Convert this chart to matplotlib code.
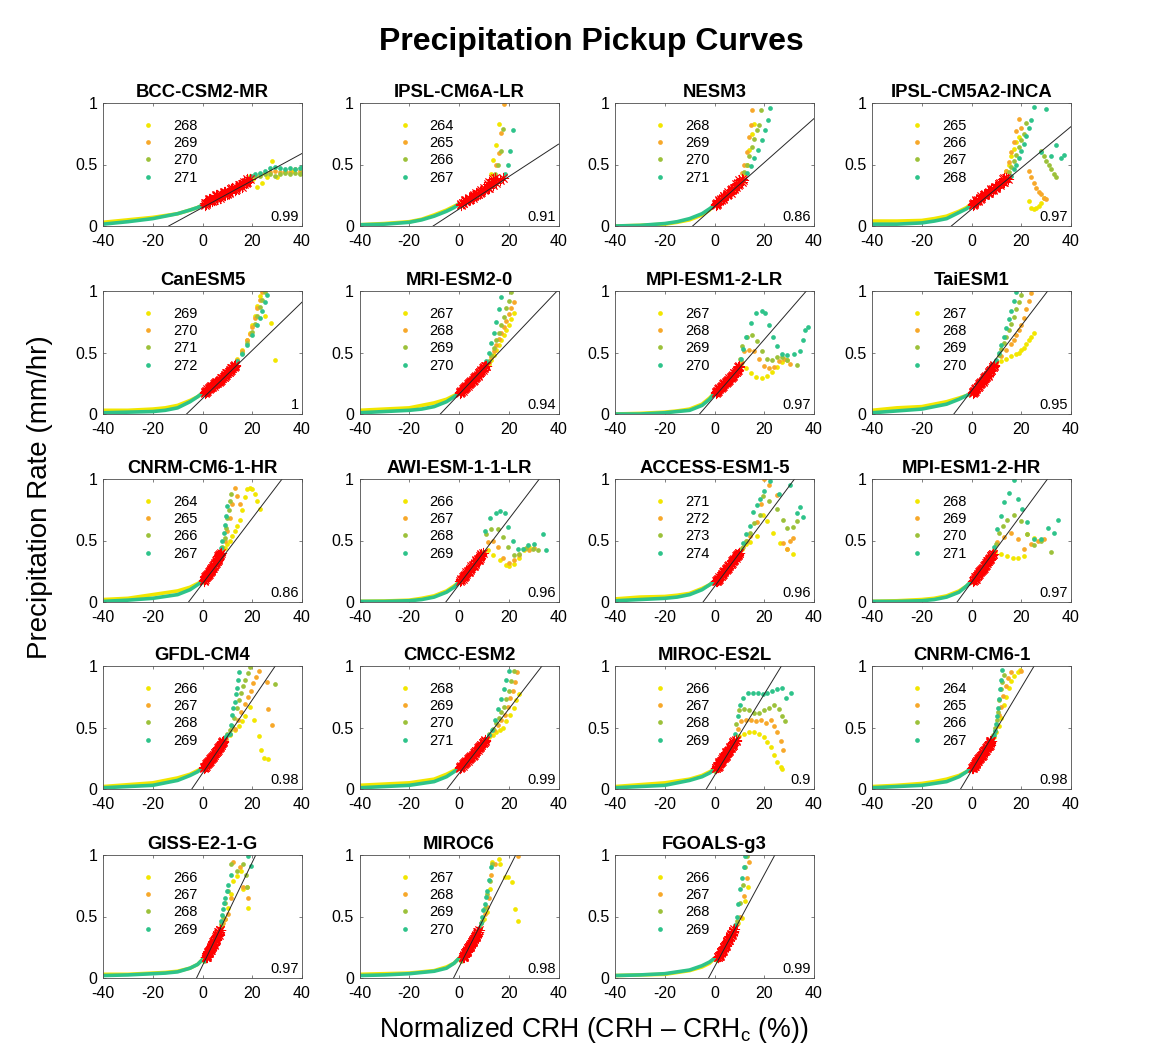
import matplotlib
matplotlib.use("Agg")
import matplotlib.pyplot as plt
from matplotlib.lines import Line2D

plt.rcParams['font.family'] = ['Liberation Sans', 'DejaVu Sans']
plt.rcParams['mathtext.fontset'] = 'custom'
plt.rcParams['mathtext.rm'] = 'Liberation Sans'
plt.rcParams['axes.unicode_minus'] = False

model_names = [
    "BCC-CSM2-MR", "IPSL-CM6A-LR", "NESM3", "IPSL-CM5A2-INCA",
    "CanESM5", "MRI-ESM2-0", "MPI-ESM1-2-LR", "TaiESM1",
    "CNRM-CM6-1-HR", "AWI-ESM-1-1-LR", "ACCESS-ESM1-5", "MPI-ESM1-2-HR",
    "GFDL-CM4", "CMCC-ESM2", "MIROC-ES2L", "CNRM-CM6-1",
    "GISS-E2-1-G", "MIROC6", "FGOALS-g3",
]
temp_labels = [
    ["268", "269", "270", "271"], ["264", "265", "266", "267"],
    ["268", "269", "270", "271"], ["265", "266", "267", "268"],
    ["269", "270", "271", "272"], ["267", "268", "269", "270"],
    ["267", "268", "269", "270"], ["267", "268", "269", "270"],
    ["264", "265", "266", "267"], ["266", "267", "268", "269"],
    ["271", "272", "273", "274"], ["268", "269", "270", "271"],
    ["266", "267", "268", "269"], ["268", "269", "270", "271"],
    ["266", "267", "268", "269"], ["264", "265", "266", "267"],
    ["266", "267", "268", "269"], ["267", "268", "269", "270"],
    ["266", "267", "268", "269"],
]
corr_values = ["0.99", "0.91", "0.86", "0.97", "1", "0.94", "0.97", "0.95",
               "0.86", "0.96", "0.96", "0.97", "0.98", "0.99", "0.9", "0.98",
               "0.97", "0.98", "0.99"]

# linear fit: crossing of zero precip and slope (mm/hr per %)
fit_x0 = [-13.6, -10.4, -8.8, -8.1, -6.4, -7.5, -6.0, -7.1, -5.6, -5.3,
          -4.6, -5.8, -4.3, -4.8, -3.3, -4.4, -2.4, -2.2, -2.4]
fit_slope = [0.011, 0.0132, 0.0179, 0.0168, 0.0196, 0.0213, 0.0233, 0.0265,
             0.0266, 0.0266, 0.0272, 0.0275, 0.0298, 0.0262, 0.0331, 0.0338,
             0.042, 0.040, 0.0375]
fit_range = (0.17, 0.40)

# dry side of the curves (warmest and coldest bins)
low_x = [-40, -30, -20, -15, -10, -5, -2, 0]
low_upper = [
    [0.03, 0.05, 0.07, 0.085, 0.10, 0.13, 0.15, 0.17], [0.01, 0.02, 0.035, 0.055, 0.09, 0.13, 0.16, 0.18],
    [0.0, 0.005, 0.015, 0.03, 0.05, 0.09, 0.13, 0.17], [0.04, 0.04, 0.045, 0.06, 0.08, 0.12, 0.15, 0.18],
    [0.03, 0.03, 0.04, 0.05, 0.07, 0.11, 0.14, 0.17], [0.03, 0.04, 0.05, 0.07, 0.09, 0.12, 0.15, 0.17],
    [0.0, 0.005, 0.015, 0.025, 0.04, 0.08, 0.13, 0.17], [0.03, 0.05, 0.06, 0.08, 0.10, 0.13, 0.15, 0.17],
    [0.02, 0.03, 0.06, 0.075, 0.09, 0.12, 0.15, 0.17], [0.005, 0.008, 0.015, 0.03, 0.05, 0.09, 0.13, 0.16],
    [0.025, 0.04, 0.045, 0.055, 0.07, 0.11, 0.14, 0.17], [0.005, 0.01, 0.02, 0.03, 0.05, 0.09, 0.13, 0.17],
    [0.02, 0.035, 0.05, 0.07, 0.09, 0.12, 0.15, 0.17], [0.03, 0.04, 0.05, 0.065, 0.08, 0.12, 0.15, 0.17],
    [0.02, 0.035, 0.05, 0.065, 0.08, 0.11, 0.14, 0.16], [0.02, 0.03, 0.045, 0.06, 0.08, 0.11, 0.14, 0.17],
    [0.03, 0.03, 0.04, 0.045, 0.055, 0.08, 0.11, 0.15], [0.03, 0.035, 0.04, 0.05, 0.06, 0.09, 0.12, 0.16],
    [0.02, 0.025, 0.03, 0.045, 0.06, 0.09, 0.12, 0.16],
]
low_lower = [
    [0.015, 0.035, 0.06, 0.08, 0.10, 0.13, 0.15, 0.17], [0.01, 0.015, 0.03, 0.05, 0.08, 0.12, 0.15, 0.18],
    [0.0, 0.005, 0.02, 0.035, 0.06, 0.10, 0.14, 0.17], [0.015, 0.015, 0.025, 0.04, 0.06, 0.11, 0.14, 0.17],
    [0.01, 0.015, 0.02, 0.03, 0.05, 0.10, 0.14, 0.17], [0.01, 0.02, 0.03, 0.04, 0.06, 0.10, 0.14, 0.17],
    [0.0, 0.0, 0.01, 0.02, 0.03, 0.07, 0.12, 0.17], [0.01, 0.025, 0.04, 0.06, 0.08, 0.12, 0.15, 0.17],
    [0.005, 0.015, 0.03, 0.045, 0.06, 0.10, 0.14, 0.17], [0.005, 0.005, 0.01, 0.02, 0.04, 0.08, 0.12, 0.16],
    [0.01, 0.02, 0.03, 0.04, 0.06, 0.10, 0.14, 0.17], [0.005, 0.005, 0.01, 0.02, 0.04, 0.08, 0.13, 0.17],
    [0.01, 0.02, 0.03, 0.05, 0.07, 0.11, 0.14, 0.17], [0.01, 0.02, 0.03, 0.045, 0.06, 0.10, 0.14, 0.17],
    [0.01, 0.02, 0.03, 0.05, 0.07, 0.10, 0.13, 0.16], [0.01, 0.02, 0.03, 0.045, 0.06, 0.10, 0.14, 0.17],
    [0.02, 0.025, 0.035, 0.04, 0.05, 0.08, 0.11, 0.15], [0.02, 0.025, 0.035, 0.045, 0.055, 0.08, 0.12, 0.16],
    [0.02, 0.025, 0.035, 0.05, 0.065, 0.10, 0.13, 0.16],
]

# moist side, (CRH, precip) per bin, one list per temperature (cold -> warm)
bcc = [
    [(1, .19), (2.5, .22), (4, .21), (5.5, .25), (7, .24), (8.5, .28), (10, .27), (11.5, .30), (13, .29), (14.5, .33), (16, .32), (17.5, .36), (19, .41), (20.5, .38), (22, .32), (24, .35), (26, .40), (28, .53), (30, .40), (33, .44), (36, .45), (39, .43)],
    [(1.5, .18), (3, .20), (4.5, .23), (6, .22), (7.5, .26), (9, .25), (10.5, .28), (12, .29), (13.5, .30), (15, .33), (16.5, .34), (18, .36), (19.5, .41), (21, .41), (23, .42), (25, .43), (27, .44), (29, .45), (31, .44), (33, .45), (35, .44), (37, .46), (39, .45), (40, .44)],
    [(1, .17), (2.5, .21), (4, .20), (5.5, .24), (7, .23), (8.5, .27), (10, .26), (11.5, .30), (13, .29), (14.5, .32), (16, .34), (17.5, .35), (19, .38), (21, .41), (23, .41), (25, .42), (27, .42), (29, .41), (31, .42), (33, .43), (35, .42), (37, .43), (39, .42), (40, .43)],
    [(1.5, .19), (3, .22), (4.5, .21), (6, .25), (7.5, .24), (9, .28), (10.5, .27), (12, .31), (13.5, .32), (15, .33), (16.5, .36), (18, .38), (19.5, .41), (21, .42), (23, .43), (25, .45), (27, .47), (29, .48), (31, .47), (33, .46), (35, .47), (37, .46), (39, .47), (40, .48)],
]
ipsl6 = [
    [(1, .18), (2.5, .21), (4, .23), (5.5, .24), (7, .27), (8.5, .28), (10, .31), (11.5, .34), (13, .42), (13.6, .54), (14.7, .66), (15.9, .83)],
    [(1.5, .19), (3, .20), (4.5, .22), (6, .25), (7.5, .26), (9, .29), (10.5, .30), (12, .36), (13.5, .38), (14.5, .39), (15, .50), (16, .59), (17, .76), (18, .99)],
    [(1, .17), (2.5, .20), (4, .21), (5.5, .23), (7, .25), (8.5, .27), (10, .29), (11.5, .31), (13, .35), (14.3, .42), (15.6, .50), (16.7, .61), (17.6, .79)],
    [(1.5, .19), (3, .21), (4.5, .22), (6, .24), (7.5, .26), (9, .28), (10.5, .30), (12, .31), (13.5, .33), (15, .35), (16.5, .37), (17.5, .39), (18.5, .42), (19.6, .50), (20.5, .61), (21.9, .78)],
]
nesm3 = [
    [(.5, .17), (2, .20), (3.5, .22), (5, .25), (6.5, .27), (8, .30), (9.5, .33), (11, .36), (12, .42), (13, .50), (14, .62), (15, .75), (16, .83)],
    [(1, .19), (2.5, .22), (4, .24), (5.5, .28), (7, .30), (8.5, .34), (10, .37), (11, .43), (12, .50), (13, .60), (14, .72), (14.5, .82), (15, .94)],
    [(.5, .18), (2, .21), (3.5, .23), (5, .26), (6.5, .29), (8, .31), (9.5, .35), (11, .38), (12, .44), (13, .50), (14, .57), (15, .64), (16, .71), (17, .78), (18, .82), (18.5, .94)],
    [(1, .18), (2.5, .21), (4, .24), (5.5, .26), (7, .29), (8.5, .32), (10, .34), (11.5, .37), (13, .43), (14.5, .49), (16, .55), (17.5, .62), (19, .70), (20.5, .78), (21.5, .86), (22.3, .96)],
]
inca = [
    [(.5, .18), (2, .20), (3.5, .23), (5, .25), (6.5, .27), (8, .29), (9.5, .31), (11, .34), (12.5, .38), (14, .45), (15, .50), (16, .57), (17, .63), (18, .68), (19, .72), (23, .20), (24, .15), (25, .14), (26, .15), (27, .16), (28, .19), (29, .23)],
    [(1, .19), (2.5, .21), (4, .24), (5.5, .26), (7, .28), (8.5, .30), (10, .32), (11.5, .35), (13, .39), (14, .45), (15, .52), (16, .60), (17, .68), (18, .77), (19, .87), (20, .80), (23, .45), (24, .40), (25, .35), (26, .31), (27, .28), (28, .26), (29, .23), (30, .22)],
    [(.5, .17), (2, .21), (3.5, .22), (5, .25), (6.5, .27), (8, .30), (9.5, .32), (11, .34), (12.5, .36), (14, .39), (15, .44), (16, .48), (17, .53), (18, .58), (19, .64), (20, .70), (21, .75), (22, .84), (28, .61), (29, .57), (30, .53), (31, .50), (32, .46), (33, .42), (34, .40)],
    [(1, .18), (2.5, .20), (4, .23), (5.5, .25), (7, .27), (8.5, .29), (10, .31), (11.5, .33), (13, .36), (14.5, .38), (16, .41), (17, .46), (18, .50), (19, .55), (20, .61), (21, .67), (22, .73), (23, .80), (24, .86), (25, .97), (28, .60), (30, .95), (32, .57), (34, .66), (36, .55), (37, .58)],
]
canesm5 = [
    [(1, .18), (2, .20), (3, .21), (4, .23), (5, .24), (6, .26), (7, .27), (8, .29), (9, .31), (10, .33), (11, .35), (12, .37), (13, .40), (14, .45), (16, .52), (18, .60), (19, .66), (20, .72), (21, .80), (22, .88), (23, .96), (25, .80), (27.5, .74), (29, .44)],
    [(1.5, .19), (2.5, .21), (3.5, .22), (4.5, .24), (5.5, .25), (6.5, .27), (7.5, .28), (8.5, .30), (9.5, .32), (10.5, .34), (11.5, .36), (12.5, .38), (14, .44), (16, .51), (18, .60), (19, .65), (20, .71), (21, .78), (22, .86), (23, .93), (24, .99)],
    [(1, .17), (2, .19), (3, .22), (4, .22), (5, .25), (6, .25), (7, .28), (8, .29), (9, .32), (10, .33), (11, .36), (12, .37), (13, .39), (14, .43), (16, .50), (18, .58), (20, .67), (21, .73), (22, .80), (23, .87), (24, .93), (25, .99)],
    [(1.5, .18), (2.5, .20), (3.5, .23), (4.5, .23), (5.5, .26), (6.5, .26), (7.5, .29), (8.5, .30), (9.5, .33), (10.5, .34), (11.5, .37), (12.5, .39), (14, .43), (16, .49), (18, .56), (20, .64), (22, .72), (23, .78), (24, .84), (25, .91), (26, .97)],
]
mri = [
    [(.5, .17), (1.5, .19), (2.5, .22), (3.5, .23), (4.5, .26), (5.5, .27), (6.5, .30), (7.5, .31), (8.5, .34), (9.5, .36), (11, .39), (12, .41), (13, .44), (14, .48), (15, .52), (16, .56), (17, .60), (18, .64), (19, .68), (20, .72), (21, .77), (22, .82)],
    [(1, .18), (2, .21), (3, .22), (4, .25), (5, .26), (6, .29), (7, .30), (8, .33), (9, .35), (10, .37), (11, .39), (12, .42), (13, .46), (14, .51), (15, .56), (16, .61), (17, .66), (18, .71), (19, .76), (20, .81), (21, .86), (22, .91)],
    [(.5, .18), (1.5, .20), (2.5, .21), (3.5, .24), (4.5, .25), (5.5, .28), (6.5, .29), (7.5, .32), (8.5, .34), (9.5, .37), (10.5, .39), (12, .43), (13, .48), (14, .54), (15, .60), (16, .66), (17, .72), (18, .79), (19, .86), (20, .92), (21, .99)],
    [(1, .19), (2, .20), (3, .23), (4, .24), (5, .27), (6, .28), (7, .31), (8, .33), (9, .36), (10, .38), (11, .43), (12, .50), (13, .58), (14, .66), (15, .75), (16, .85), (17, .95)],
]
mpilr = [
    [(.5, .17), (1.5, .19), (2.5, .22), (3.5, .23), (4.5, .26), (5.5, .27), (6.5, .30), (7.5, .31), (8.5, .34), (9.5, .36), (10.5, .41), (12.5, .37), (14.5, .33), (16.5, .30), (19, .29), (21, .31), (23, .34), (25, .38), (27, .42), (29, .44)],
    [(1, .18), (2, .21), (3, .22), (4, .25), (5, .26), (6, .29), (7, .30), (8, .33), (9, .35), (10, .38), (11, .42), (12, .51), (14, .52), (16, .51), (18, .45), (20, .39), (22, .37), (24, .38), (26, .43), (28, .45), (30.5, .41)],
    [(.5, .18), (1.5, .20), (2.5, .21), (3.5, .24), (4.5, .25), (5.5, .28), (6.5, .29), (7.5, .32), (8.5, .34), (9.5, .38), (10.3, .45), (11, .55), (13, .63), (15, .64), (17, .59), (19, .51), (21, .45), (23, .44), (25, .46), (27, .46), (29, .44), (33, .40)],
    [(1, .19), (2, .20), (3, .23), (4, .24), (5, .27), (6, .28), (7, .31), (8, .33), (9, .36), (10, .39), (10.5, .45), (11.3, .53), (12.5, .63), (14.5, .74), (16.5, .82), (19, .84), (20.5, .82), (22, .72), (23.5, .63), (25, .55), (27, .49), (29, .48), (32, .49), (34.5, .51), (35.5, .60), (36.5, .68), (37.5, .71)],
]
taiesm1 = [
    [(.5, .17), (1.5, .20), (2.5, .22), (3.5, .24), (4.5, .27), (5.5, .29), (6.5, .32), (7.5, .35), (8.5, .38), (10, .41), (12, .43), (14, .45), (16, .47), (18, .49), (19, .50), (20, .52), (21, .54), (22, .57), (23, .60), (24, .63), (25, .66)],
    [(1, .18), (2, .21), (3, .23), (4, .26), (5, .28), (6, .31), (7, .33), (8, .36), (9, .39), (10, .42), (12, .47), (14, .52), (16, .57), (17, .60), (18, .64), (19, .68), (20, .72), (21, .78), (22, .85), (23, .92), (24, .98)],
    [(.5, .18), (1.5, .19), (2.5, .22), (3.5, .25), (4.5, .26), (5.5, .30), (6.5, .31), (7.5, .35), (8.5, .38), (10, .43), (11, .48), (12, .53), (13, .58), (14, .63), (15, .68), (16, .73), (17, .79), (18, .85), (19, .91), (20, .97)],
    [(1, .19), (2, .20), (3, .24), (4, .25), (5, .29), (6, .30), (7, .34), (8, .36), (9, .40), (10, .44), (11, .50), (12, .56), (13, .63), (14, .70), (15, .77), (16, .84), (17, .92), (18, .99)],
]
cnrmhr = [
    [(.5, .17), (1.2, .19), (1.9, .22), (2.6, .23), (3.3, .26), (4, .28), (4.7, .30), (5.4, .32), (6.1, .35), (6.8, .37), (7.5, .40), (9, .44), (10, .47), (11, .50), (12, .54), (13, .58), (14, .62), (15, .67), (16, .75), (17, .85), (18, .92), (19, .93), (20, .92), (21, .88), (22, .82), (23, .76)],
    [(.8, .18), (1.5, .20), (2.2, .22), (2.9, .25), (3.6, .26), (4.3, .29), (5, .31), (5.7, .33), (6.4, .36), (7.1, .38), (8, .44), (9, .50), (10, .58), (11, .68), (12, .80), (13, .93), (14, .86), (15, .80)],
    [(.5, .16), (1.2, .20), (1.9, .21), (2.6, .24), (3.3, .25), (4, .28), (4.7, .29), (5.4, .33), (6.1, .34), (6.8, .38), (8, .45), (9, .52), (9.5, .60), (10, .68), (10.5, .75), (11, .82), (11.5, .88)],
    [(.8, .18), (1.5, .21), (2.2, .23), (2.9, .24), (3.6, .27), (4.3, .28), (5, .32), (5.7, .33), (6.4, .37), (7.1, .39), (7.5, .44), (8, .50), (8.5, .56), (9, .63), (9.5, .70), (10, .78)],
]
awi = [
    [(.5, .17), (1.5, .19), (2.5, .22), (3.5, .24), (4.5, .27), (5.5, .29), (6.5, .32), (7.5, .34), (8.5, .37), (9.5, .40), (11.6, .42), (13.6, .38), (16.3, .34), (19, .30), (20.3, .29), (22.3, .31), (24.3, .36), (26.3, .42), (28.3, .45)],
    [(1, .18), (2, .21), (3, .23), (4, .25), (5, .28), (6, .30), (7, .33), (8, .35), (9, .38), (10, .41), (11.6, .49), (13.6, .50), (15.6, .45), (17.6, .36), (20.3, .32), (22.3, .34), (24.3, .38), (26.3, .43), (28.3, .42), (30, .44)],
    [(.5, .16), (1.5, .20), (2.5, .21), (3.5, .25), (4.5, .26), (5.5, .30), (6.5, .31), (7.5, .35), (8.5, .36), (9.5, .41), (11, .55), (12.9, .59), (15.6, .59), (17.6, .53), (19.6, .45), (22.3, .38), (24.3, .39), (26.9, .44), (29.6, .43), (31.6, .42)],
    [(1, .19), (2, .20), (3, .24), (4, .24), (5, .29), (6, .29), (7, .34), (8, .34), (9, .39), (10.3, .58), (12.3, .68), (14.9, .72), (16.3, .74), (18.3, .72), (19.6, .61), (21.6, .50), (23.6, .43), (25.6, .43), (27.6, .46), (30.3, .47), (33.6, .55), (34.9, .42)],
]
access = [
    [(.5, .16), (1.5, .19), (2.5, .21), (3.5, .24), (4.5, .26), (5.5, .29), (6.5, .31), (7.5, .34), (8.5, .36), (9.5, .39), (11, .43), (12.5, .47), (14.2, .49), (16.9, .54), (19.6, .71), (21, .66), (23.6, .56), (26.3, .48), (29, .43), (31.7, .39)],
    [(1, .17), (2, .20), (3, .22), (4, .25), (5, .27), (6, .30), (7, .32), (8, .35), (9, .37), (10, .40), (11.5, .45), (13, .50), (14.2, .54), (16.9, .65), (18.5, .80), (20.1, 1.0), (22, .95), (25, .87), (27.7, .48), (29, .43), (30.3, .50), (31.7, .52)],
    [(.5, .17), (1.5, .18), (2.5, .21), (3.5, .23), (4.5, .27), (5.5, .28), (6.5, .31), (7.5, .33), (8.5, .37), (9.5, .38), (11, .44), (12.5, .50), (14.2, .56), (16, .64), (18.3, .71), (19.6, .86), (22, .82), (25, .76), (27.7, .67), (29, .60), (31.7, .61), (33, .66)],
    [(1, .18), (2, .19), (3, .23), (4, .24), (5, .28), (6, .29), (7, .33), (8, .34), (9, .38), (10, .40), (11.5, .48), (12.8, .55), (14.2, .62), (15.6, .73), (17, .79), (18.3, .84), (20, .90), (22.3, .98), (26, .88), (30.3, .95), (33, .72), (34.4, .77), (35.7, .69)],
]
mpihr = [
    [(.5, .17), (1.3, .19), (2.1, .21), (2.9, .23), (3.7, .26), (4.5, .27), (5.3, .30), (6.1, .32), (6.9, .35), (7.7, .37), (8.5, .39), (9.5, .41), (11.7, .39), (14.4, .37), (16.5, .36), (18.5, .36), (21, .37), (22.5, .55), (25.2, .52)],
    [(.9, .18), (1.7, .20), (2.5, .22), (3.3, .25), (4.1, .26), (4.9, .29), (5.7, .30), (6.5, .33), (7.3, .35), (8.1, .38), (9, .42), (10.4, .49), (13.1, .53), (15.8, .56), (18.5, .51), (21.2, .43), (23.9, .47), (26.6, .50), (29.3, .51)],
    [(.5, .16), (1.3, .20), (2.1, .21), (2.9, .24), (3.7, .25), (4.5, .28), (5.3, .29), (6.1, .33), (6.9, .34), (7.7, .37), (8.5, .39), (9.8, .47), (11.2, .56), (12.8, .62), (14.4, .67), (17.1, .71), (19.8, .66), (22.5, .55), (25.2, .46), (27.9, .50), (31.9, .41)],
    [(.9, .18), (1.7, .19), (2.5, .23), (3.3, .24), (4.1, .27), (4.9, .28), (5.7, .32), (6.5, .33), (7.3, .36), (8.1, .38), (9, .45), (10.4, .59), (11.8, .70), (13.1, .81), (15, .89), (17.1, .99), (18.5, .84), (20.4, .76), (22.5, .65), (25.2, .51), (27.9, .51), (30.6, .60), (33.3, .56), (34.7, .67)],
]
gfdl = [
    [(.5, .18), (1.3, .19), (2.1, .22), (2.9, .23), (3.7, .26), (4.5, .28), (5.3, .30), (6.1, .32), (6.9, .35), (7.7, .37), (9, .41), (11, .44), (13, .48), (14.5, .51), (16, .55), (17.2, .59), (19, .67), (20.9, .56), (22.6, .43), (23.6, .32), (24.7, .25), (26.3, .24)],
    [(.9, .18), (1.7, .21), (2.5, .22), (3.3, .25), (4.1, .26), (4.9, .29), (5.7, .31), (6.5, .33), (7.3, .36), (8.1, .38), (9.5, .41), (11, .45), (12.9, .49), (14.2, .56), (15.6, .63), (17, .69), (18.3, .75), (19.3, .80), (20.4, .86), (21.5, .91), (22.6, .96), (25.8, .87), (26.3, .65), (27.9, .52)],
    [(.5, .17), (1.3, .20), (2.1, .21), (2.9, .24), (3.7, .25), (4.5, .28), (5.3, .30), (6.1, .33), (6.9, .34), (7.7, .38), (8.7, .41), (10, .45), (11, .48), (11.8, .51), (12.8, .58), (13.7, .66), (14.7, .72), (15.6, .78), (16.4, .84), (17.2, .89), (18.1, .94), (19, .99), (29.3, .85)],
    [(.9, .18), (1.7, .20), (2.5, .23), (3.3, .24), (4.1, .27), (4.9, .29), (5.7, .31), (6.5, .34), (7.3, .36), (8.1, .39), (9, .42), (10, .44), (11, .45), (11.4, .52), (11.8, .60), (12.3, .66), (12.9, .71), (13.3, .77), (13.7, .82), (14.1, .89), (14.5, .95)],
]
cmcc = [
    [(.5, .17), (1.5, .19), (2.5, .22), (3.5, .23), (4.5, .26), (5.5, .27), (6.5, .30), (7.5, .32), (8.5, .35), (9.5, .37), (10.5, .39), (12, .42), (13.5, .44), (15, .46), (16.5, .48), (17.5, .50), (19, .55), (20.5, .60), (22, .66), (23, .72), (24, .77)],
    [(1, .18), (2, .21), (3, .22), (4, .25), (5, .26), (6, .29), (7, .31), (8, .34), (9, .36), (10, .38), (11, .41), (12.5, .44), (14, .48), (15.8, .52), (17, .56), (18.5, .60), (19.5, .67), (20.7, .74), (21.7, .80), (22.6, .87), (23.5, .95)],
    [(.5, .18), (1.5, .20), (2.5, .21), (3.5, .24), (4.5, .25), (5.5, .28), (6.5, .29), (7.5, .33), (8.5, .34), (9.5, .37), (10.5, .40), (12, .45), (13.5, .49), (15, .54), (16, .58), (17, .63), (18, .67), (19, .73), (20, .80), (21, .88), (22, .96)],
    [(1, .19), (2, .20), (3, .23), (4, .24), (5, .27), (6, .28), (7, .31), (8, .33), (9, .36), (10, .38), (11, .41), (12, .44), (13.2, .48), (14.5, .56), (15.8, .65), (17, .73), (18, .81), (19, .89), (19.9, .96)],
]
mirocs2l = [
    [(.3, .16), (1, .18), (1.7, .20), (2.4, .21), (3.1, .24), (3.8, .25), (4.5, .28), (5.2, .29), (5.9, .32), (6.6, .33), (7.3, .36), (8.5, .39), (10, .43), (12, .45), (14, .46), (16, .46), (18, .45), (20, .42), (21.3, .38), (22.7, .34), (24, .28), (25.3, .22), (26.7, .18), (27.3, .16)],
    [(.6, .17), (1.3, .19), (2, .21), (2.7, .23), (3.4, .25), (4.1, .27), (4.8, .29), (5.5, .31), (6.2, .33), (6.9, .35), (7.6, .37), (8.5, .40), (9.3, .49), (10.7, .55), (12.7, .56), (14.7, .56), (16.7, .55), (18.7, .56), (20.7, .54), (22.7, .56), (24, .51), (25.3, .46), (26.7, .39), (27.7, .32)],
    [(.3, .15), (1, .19), (1.7, .19), (2.4, .22), (3.1, .23), (3.8, .26), (4.5, .27), (5.2, .30), (5.9, .31), (6.6, .34), (7.3, .36), (8, .39), (8.7, .53), (10, .64), (12, .65), (14, .64), (16, .62), (18, .62), (20, .64), (22, .66), (24, .68), (26, .65), (27.3, .59), (28.3, .55)],
    [(.6, .17), (1.3, .18), (2, .22), (2.7, .22), (3.4, .26), (4.1, .26), (4.8, .30), (5.5, .30), (6.2, .34), (6.9, .35), (7.6, .38), (8.4, .45), (9.3, .59), (10.3, .68), (11.3, .74), (13.3, .78), (15.3, .78), (17.3, .78), (19.3, .77), (21.3, .78), (23.3, .80), (25.3, .81), (27.3, .82), (28.7, .74), (30.7, .78)],
]
cnrm = [
    [(.3, .17), (1, .19), (1.7, .21), (2.4, .23), (3.1, .25), (3.8, .27), (4.5, .29), (5.2, .31), (5.9, .33), (6.6, .35), (7.3, .37), (8, .39), (9, .42), (10, .46), (11.2, .51), (12, .58), (13.1, .68), (14, .75), (15, .82), (16, .88), (17.1, .92), (18.5, .95), (19.5, .97)],
    [(.6, .17), (1.3, .20), (2, .21), (2.7, .24), (3.4, .25), (4.1, .28), (4.8, .29), (5.5, .32), (6.2, .33), (6.9, .36), (7.6, .38), (8.5, .42), (9.5, .47), (10.4, .52), (11.1, .60), (11.8, .67), (12.8, .76), (13.9, .84), (14.8, .90), (15.8, .95), (19.8, .96)],
    [(.3, .16), (1, .19), (1.7, .20), (2.4, .23), (3.1, .24), (3.8, .27), (4.5, .28), (5.2, .31), (5.9, .32), (6.6, .35), (7.3, .36), (8, .39), (8.8, .44), (9.6, .50), (10.2, .56), (10.7, .63), (11.2, .72), (11.8, .81), (12.4, .87), (13.1, .93)],
    [(.6, .18), (1.3, .19), (2, .22), (2.7, .23), (3.4, .26), (4.1, .27), (4.8, .30), (5.5, .31), (6.2, .34), (6.9, .35), (7.6, .39), (8.4, .41), (9, .44), (9.6, .47), (10, .53), (10.4, .59), (10.8, .66), (11.2, .73), (11.5, .81), (11.8, .89), (12.3, .97)],
]
giss = [
    [(.8, .15), (1.3, .17), (1.8, .18), (2.3, .21), (2.8, .22), (3.3, .25), (3.8, .26), (4.3, .29), (4.8, .30), (5.3, .33), (5.8, .34), (6.3, .37), (7, .39), (8, .43), (9, .48), (10.3, .57), (11.3, .68), (12.3, .79), (13.7, .83), (15.3, .87), (16.3, .72), (17.7, .74), (18.3, .57)],
    [(1, .16), (1.5, .17), (2, .19), (2.5, .21), (3, .23), (3.5, .24), (4, .27), (4.5, .28), (5, .31), (5.5, .32), (6, .35), (6.5, .37), (7.2, .41), (8.2, .45), (9.2, .48), (10.3, .52), (11.3, .65), (12.3, .94), (14.9, .90), (16.3, .74), (18.3, .65)],
    [(.8, .14), (1.3, .17), (1.8, .17), (2.3, .20), (2.8, .21), (3.3, .24), (3.8, .25), (4.3, .28), (4.8, .29), (5.3, .32), (5.8, .34), (6.3, .36), (7, .39), (7.6, .44), (8.2, .50), (9.2, .61), (10.3, .71), (11.3, .93), (13.7, .87), (16.3, .93), (17.3, .84), (17.7, .74)],
    [(1, .15), (1.5, .16), (2, .19), (2.5, .20), (3, .23), (3.5, .23), (4, .27), (4.5, .27), (5, .31), (5.5, .31), (6, .35), (6.5, .35), (7.2, .39), (7.6, .46), (8, .51), (8.4, .56), (8.8, .61), (9.2, .65), (9.7, .71), (10.3, .76), (11.3, .84), (18.3, .99), (19.3, .91)],
]
miroc6 = [
    [(1, .15), (1.6, .17), (2.2, .19), (2.8, .21), (3.4, .23), (4, .25), (4.6, .27), (5.2, .29), (5.8, .31), (6.4, .33), (7, .35), (7.6, .37), (8.5, .41), (10, .48), (11.3, .54), (12.3, .72), (13.3, .94), (15.9, .97), (16.3, .93), (18.3, .82), (19.7, .82), (21.3, .78), (22.7, .56), (23.9, .46)],
    [(1.3, .16), (1.9, .18), (2.5, .20), (3.1, .22), (3.7, .24), (4.3, .26), (4.9, .28), (5.5, .30), (6.1, .32), (6.7, .34), (7.3, .36), (8, .39), (9, .45), (10.3, .52), (11.1, .58), (11.9, .65), (12.7, .84), (14.3, .93), (23.9, .99)],
    [(1, .14), (1.6, .17), (2.2, .18), (2.8, .21), (3.4, .22), (4, .25), (4.6, .26), (5.2, .29), (5.8, .30), (6.4, .33), (7, .34), (7.6, .37), (8.4, .41), (9.2, .46), (10.3, .57), (11.3, .68), (12.3, .79), (13.3, .93)],
    [(1.3, .16), (1.9, .17), (2.5, .20), (3.1, .21), (3.7, .24), (4.3, .25), (4.9, .28), (5.5, .29), (6.1, .32), (6.7, .33), (7.3, .37), (8.2, .41), (8.7, .45), (9.2, .50), (9.8, .55), (10.3, .60), (10.8, .66), (11.3, .71), (11.9, .80), (12.7, .90)],
]
fgoals = [
    [(1, .15), (1.6, .17), (2.2, .19), (2.8, .21), (3.4, .23), (4, .25), (4.6, .27), (5.2, .30), (5.8, .31), (6.4, .34), (7, .36), (7.6, .38), (8.4, .41), (9.6, .45), (10.9, .49), (12.3, .63), (13.3, .74)],
    [(1.3, .16), (1.9, .18), (2.5, .20), (3.1, .22), (3.7, .24), (4.3, .26), (4.9, .29), (5.5, .31), (6.1, .33), (6.7, .35), (7.3, .37), (8, .40), (9, .44), (10.3, .50), (11.7, .67), (12.9, .81), (13.7, .94)],
    [(1, .15), (1.6, .17), (2.2, .18), (2.8, .21), (3.4, .22), (4, .25), (4.6, .26), (5.2, .29), (5.8, .31), (6.4, .33), (7, .35), (7.6, .38), (8.3, .42), (9.2, .46), (10.3, .61), (11.3, .76), (12.3, .90), (12.9, .99)],
    [(1.3, .16), (1.9, .18), (2.5, .21), (3.1, .22), (3.7, .25), (4.3, .26), (4.9, .29), (5.5, .31), (6.1, .33), (6.7, .36), (7.3, .38), (8.2, .43), (9.2, .50), (9.6, .60), (10.3, .72), (10.9, .81), (11.7, .90), (12.3, .99)],
]
curves = [bcc, ipsl6, nesm3, inca, canesm5, mri, mpilr, taiesm1,
          cnrmhr, awi, access, mpihr, gfdl, cmcc, mirocs2l, cnrm,
          giss, miroc6, fgoals]

colors = ['#f2e600', '#f7a82a', '#9cc13a', '#2ec38a']

W, H = 1159, 1062
col_left = [103, 359.5, 615, 872]
row_top = [103, 291, 479, 666, 855]
ax_w, ax_h = 199, 123

fig = plt.figure(figsize=(W / 100, H / 100), dpi=100)

for i, name in enumerate(model_names):
    r, c = divmod(i, 4)
    ax = fig.add_axes([col_left[c] / W, 1 - (row_top[r] + ax_h) / H, ax_w / W, ax_h / H])

    ax.plot(low_x, low_upper[i], color=colors[0], lw=2.6, solid_capstyle='round')
    ax.plot(low_x, low_lower[i], color=colors[3], lw=2.6, solid_capstyle='round')

    star_x, star_y = [], []
    for k, pts in enumerate(curves[i]):
        ax.plot([p[0] for p in pts], [p[1] for p in pts], 'o', ms=3.4,
                mec='none', color=colors[k])
        # points on the linear part (before the curve first exceeds the range top)
        for x, y in pts:
            if y > fit_range[1]:
                break
            if y >= fit_range[0]:
                star_x.append(x)
                star_y.append(y)
    ax.plot(star_x, star_y, ls='none', marker=(8, 2, 0), ms=8, mew=0.6, color='red')
    ax.axline((fit_x0[i], 0), slope=fit_slope[i], color='0.15', lw=0.7)

    handles = [Line2D([], [], ls='none', marker='o', ms=3.4, mec='none', color=col)
               for col in colors]
    ax.legend(handles, temp_labels[i], loc='upper left', bbox_to_anchor=(0.19, 0.87),
              frameon=False, fontsize=10.5, handlelength=1, handletextpad=1.2,
              labelspacing=0.22, borderpad=0, borderaxespad=0)
    ax.text(0.985, 0.015, corr_values[i], transform=ax.transAxes, ha='right',
            va='bottom', fontsize=10.5)

    ax.set_xlim(-40, 40)
    ax.set_ylim(0, 1)
    ax.set_xticks([-40, -20, 0, 20, 40])
    ax.set_yticks([0, 0.5, 1])
    ax.set_yticklabels(['0', '0.5', '1'])
    ax.tick_params(direction='in', length=2.5, width=0.5, top=True, right=True,
                   labelsize=11.5, color='0.3')
    ax.tick_params(axis='x', pad=6)
    ax.tick_params(axis='y', pad=4)
    for sp in ax.spines.values():
        sp.set_color('0.3')
        sp.set_linewidth(0.6)
    ax.set_title(name, fontsize=13.3, fontweight='bold', pad=4)

fig.text(591 / W, 1 - 42 / H, "Precipitation Pickup Curves", ha='center', va='center',
         fontsize=23, fontweight='bold')
fig.text(40 / W, 1 - 497 / H, "Precipitation Rate (mm/hr)", ha='center', va='center',
         rotation=90, fontsize=20)
fig.text(594 / W, 1 - 1030 / H, r"Normalized CRH (CRH – CRH$_\mathrm{c}$ (%))",
         ha='center', va='center', fontsize=19.2)

fig.savefig("out.png", dpi=100, facecolor='white')
